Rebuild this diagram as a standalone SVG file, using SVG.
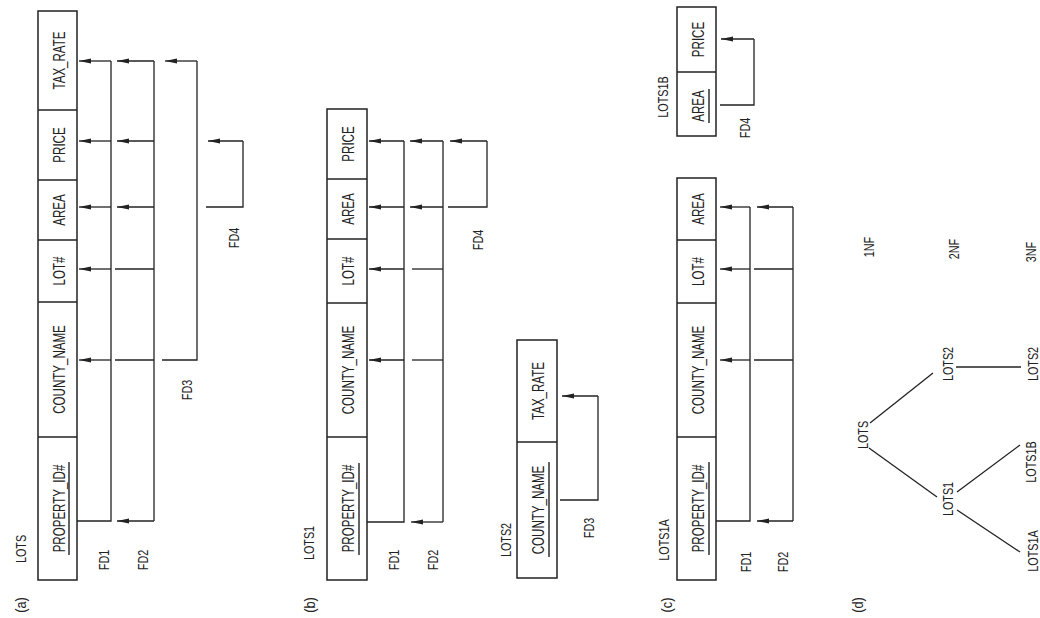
<svg xmlns="http://www.w3.org/2000/svg" width="1040" height="618" viewBox="0 0 1040 618">
<style>
.box{fill:#fff;stroke:#222;stroke-width:1.5}
.div{stroke:#222;stroke-width:1.3}
.ln{fill:none;stroke:#222;stroke-width:1.3}
.ar{fill:none;stroke:#222;stroke-width:1.3;marker-end:url(#ah)}
.ul{stroke:#222;stroke-width:1.4}
.cell{font-family:"Liberation Sans",Arial,sans-serif;font-size:17px;fill:#222;text-anchor:middle}
.lbl{font-family:"Liberation Sans",Arial,sans-serif;font-size:15px;fill:#222;text-anchor:middle}
</style>
<defs>
<marker id="ah" markerUnits="userSpaceOnUse" viewBox="0 0 12 6" refX="12" refY="3" markerWidth="12" markerHeight="6" orient="auto">
<path d="M0,0.6 L12,3 L0,5.4 Z" fill="#222"/>
</marker>
</defs>
<rect width="1040" height="618" fill="#fff"/>

<!-- (a) LOTS -->
<g id="lots">
<rect class="box" x="38" y="11" width="39" height="569"/>
<line class="div" x1="38" y1="110" x2="77" y2="110"/>
<line class="div" x1="38" y1="180" x2="77" y2="180"/>
<line class="div" x1="38" y1="240" x2="77" y2="240"/>
<line class="div" x1="38" y1="302" x2="77" y2="302"/>
<line class="div" x1="38" y1="437" x2="77" y2="437"/>
<text class="cell" transform="translate(65 60.5) rotate(-90) scale(0.68 1)">TAX_RATE</text>
<text class="cell" transform="translate(65 145) rotate(-90) scale(0.68 1)">PRICE</text>
<text class="cell" transform="translate(65 210) rotate(-90) scale(0.68 1)">AREA</text>
<text class="cell" transform="translate(65 271) rotate(-90) scale(0.68 1)">LOT#</text>
<text class="cell" transform="translate(65 369.5) rotate(-90) scale(0.68 1)">COUNTY_NAME</text>
<text class="cell" transform="translate(65 508.5) rotate(-90) scale(0.68 1)">PROPERTY_ID#</text>
<line class="ul" x1="69" y1="462" x2="69" y2="555"/>
</g>
<g id="labels-a">
<text class="lbl" transform="translate(25.5 549) rotate(-90) scale(0.72 1)">LOTS</text>
<text class="lbl" transform="translate(25.5 605) rotate(-90) scale(0.85 1)">(a)</text>
<text class="lbl" transform="translate(108.5 560) rotate(-90) scale(0.72 1)">FD1</text>
<text class="lbl" transform="translate(147.5 560) rotate(-90) scale(0.72 1)">FD2</text>
<text class="lbl" transform="translate(191.5 390) rotate(-90) scale(0.72 1)">FD3</text>
<text class="lbl" transform="translate(238.5 238) rotate(-90) scale(0.72 1)">FD4</text>
</g>

<!-- (b) LOTS1 -->
<g id="lots1">
<rect class="box" x="327" y="109" width="40" height="471"/>
<line class="div" x1="327" y1="179" x2="367" y2="179"/>
<line class="div" x1="327" y1="239" x2="367" y2="239"/>
<line class="div" x1="327" y1="303" x2="367" y2="303"/>
<line class="div" x1="327" y1="437" x2="367" y2="437"/>
<text class="cell" transform="translate(354 144) rotate(-90) scale(0.68 1)">PRICE</text>
<text class="cell" transform="translate(354 209) rotate(-90) scale(0.68 1)">AREA</text>
<text class="cell" transform="translate(354 271) rotate(-90) scale(0.68 1)">LOT#</text>
<text class="cell" transform="translate(354 370) rotate(-90) scale(0.68 1)">COUNTY_NAME</text>
<text class="cell" transform="translate(354 508.5) rotate(-90) scale(0.68 1)">PROPERTY_ID#</text>
<line class="ul" x1="359" y1="463" x2="359" y2="555"/>
</g>
<g id="labels-b">
<text class="lbl" transform="translate(313.5 543) rotate(-90) scale(0.72 1)">LOTS1</text>
<text class="lbl" transform="translate(314.5 605) rotate(-90) scale(0.85 1)">(b)</text>
<text class="lbl" transform="translate(398.5 560) rotate(-90) scale(0.72 1)">FD1</text>
<text class="lbl" transform="translate(437.5 560) rotate(-90) scale(0.72 1)">FD2</text>
<text class="lbl" transform="translate(482.5 240) rotate(-90) scale(0.72 1)">FD4</text>
</g>

<!-- LOTS2 -->
<g id="lots2">
<rect class="box" x="517" y="340" width="40" height="238"/>
<line class="div" x1="517" y1="442" x2="557" y2="442"/>
<text class="cell" transform="translate(544 391) rotate(-90) scale(0.68 1)">TAX_RATE</text>
<text class="cell" transform="translate(544 510) rotate(-90) scale(0.68 1)">COUNTY_NAME</text>
<line class="ul" x1="549" y1="462" x2="549" y2="557"/>
</g>
<g id="labels-lots2">
<text class="lbl" transform="translate(510.5 540) rotate(-90) scale(0.72 1)">LOTS2</text>
<text class="lbl" transform="translate(593.5 528) rotate(-90) scale(0.72 1)">FD3</text>
</g>

<!-- (c) LOTS1A -->
<g id="lots1a">
<rect class="box" x="677" y="178" width="39" height="402"/>
<line class="div" x1="677" y1="240" x2="716" y2="240"/>
<line class="div" x1="677" y1="303" x2="716" y2="303"/>
<line class="div" x1="677" y1="437" x2="716" y2="437"/>
<text class="cell" transform="translate(704 209) rotate(-90) scale(0.68 1)">AREA</text>
<text class="cell" transform="translate(704 271.5) rotate(-90) scale(0.68 1)">LOT#</text>
<text class="cell" transform="translate(704 370) rotate(-90) scale(0.68 1)">COUNTY_NAME</text>
<text class="cell" transform="translate(704 508.5) rotate(-90) scale(0.68 1)">PROPERTY_ID#</text>
<line class="ul" x1="709" y1="462" x2="709" y2="555"/>
</g>
<g id="lots1b">
<rect class="box" x="677" y="7" width="39" height="129"/>
<line class="div" x1="677" y1="72" x2="716" y2="72"/>
<text class="cell" transform="translate(704 39.5) rotate(-90) scale(0.68 1)">PRICE</text>
<text class="cell" transform="translate(704 106) rotate(-90) scale(0.68 1)">AREA</text>
<line class="ul" x1="709" y1="89" x2="709" y2="123"/>
</g>
<g id="labels-c">
<text class="lbl" transform="translate(668.5 540) rotate(-90) scale(0.72 1)">LOTS1A</text>
<text class="lbl" transform="translate(671.5 605) rotate(-90) scale(0.85 1)">(c)</text>
<text class="lbl" transform="translate(750.5 562) rotate(-90) scale(0.72 1)">FD1</text>
<text class="lbl" transform="translate(787.5 562) rotate(-90) scale(0.72 1)">FD2</text>
<text class="lbl" transform="translate(667.5 97) rotate(-90) scale(0.72 1)">LOTS1B</text>
<text class="lbl" transform="translate(749.5 128) rotate(-90) scale(0.72 1)">FD4</text>
</g>

<!-- (d) tree nodes -->
<g id="tree-lots"><text class="lbl" transform="translate(867.5 435) rotate(-90) scale(0.72 1)">LOTS</text></g>
<g id="tree-lots2-2nf"><text class="lbl" transform="translate(952.5 364) rotate(-90) scale(0.72 1)">LOTS2</text></g>
<g id="tree-lots1"><text class="lbl" transform="translate(952.5 499) rotate(-90) scale(0.72 1)">LOTS1</text></g>
<g id="tree-lots2-3nf"><text class="lbl" transform="translate(1037.5 364) rotate(-90) scale(0.72 1)">LOTS2</text></g>
<g id="tree-lots1b"><text class="lbl" transform="translate(1035.5 462) rotate(-90) scale(0.72 1)">LOTS1B</text></g>
<g id="tree-lots1a"><text class="lbl" transform="translate(1037.5 551) rotate(-90) scale(0.72 1)">LOTS1A</text></g>
<g id="labels-d">
<text class="lbl" transform="translate(873.5 247) rotate(-90) scale(0.72 1)">1NF</text>
<text class="lbl" transform="translate(958.5 249) rotate(-90) scale(0.72 1)">2NF</text>
<text class="lbl" transform="translate(1035.5 252) rotate(-90) scale(0.72 1)">3NF</text>
<text class="lbl" transform="translate(862.5 605) rotate(-90) scale(0.85 1)">(d)</text>
</g>

<g id="connectors">
<!-- (a) FD1 -->
<polyline class="ln" points="77,521 111,521 111,61"/>
<line class="ar" x1="111" y1="61" x2="79" y2="61"/>
<line class="ar" x1="111" y1="141" x2="79" y2="141"/>
<line class="ar" x1="111" y1="207" x2="79" y2="207"/>
<line class="ar" x1="111" y1="269" x2="79" y2="269"/>
<line class="ar" x1="111" y1="360" x2="79" y2="360"/>
<!-- (a) FD2 -->
<line class="ln" x1="154" y1="61" x2="154" y2="521"/>
<line class="ar" x1="154" y1="521" x2="117" y2="521"/>
<line class="ar" x1="154" y1="61" x2="117" y2="61"/>
<line class="ar" x1="154" y1="141" x2="117" y2="141"/>
<line class="ar" x1="154" y1="207" x2="117" y2="207"/>
<line class="ln" x1="115" y1="269" x2="154" y2="269"/>
<line class="ln" x1="115" y1="360" x2="154" y2="360"/>
<!-- (a) FD3 -->
<polyline class="ln" points="162,360 197,360 197,61"/>
<line class="ar" x1="197" y1="61" x2="165" y2="61"/>
<!-- (a) FD4 -->
<polyline class="ln" points="206,207 243,207 243,141"/>
<line class="ar" x1="243" y1="141" x2="208" y2="141"/>

<!-- (b) FD1 -->
<polyline class="ln" points="367,522 404,522 404,141"/>
<line class="ar" x1="404" y1="141" x2="369" y2="141"/>
<line class="ar" x1="404" y1="207" x2="369" y2="207"/>
<line class="ar" x1="404" y1="269" x2="369" y2="269"/>
<line class="ar" x1="404" y1="360" x2="369" y2="360"/>
<!-- (b) FD2 -->
<line class="ln" x1="443" y1="141" x2="443" y2="522"/>
<line class="ar" x1="443" y1="522" x2="411" y2="522"/>
<line class="ar" x1="443" y1="141" x2="410" y2="141"/>
<line class="ar" x1="443" y1="207" x2="410" y2="207"/>
<line class="ln" x1="412" y1="269" x2="443" y2="269"/>
<line class="ln" x1="412" y1="360" x2="443" y2="360"/>
<!-- (b) FD4 -->
<polyline class="ln" points="448,207 487,207 487,141"/>
<line class="ar" x1="487" y1="141" x2="450" y2="141"/>

<!-- LOTS2 FD3 -->
<polyline class="ln" points="560,500 598,500 598,396"/>
<line class="ar" x1="598" y1="396" x2="562" y2="396"/>

<!-- (c) LOTS1A FD1 -->
<polyline class="ln" points="716,521 750,521 750,207"/>
<line class="ar" x1="750" y1="207" x2="720" y2="207"/>
<line class="ar" x1="750" y1="269" x2="720" y2="269"/>
<line class="ar" x1="750" y1="360" x2="720" y2="360"/>
<!-- (c) LOTS1A FD2 -->
<line class="ln" x1="793" y1="207" x2="793" y2="521"/>
<line class="ar" x1="793" y1="521" x2="757" y2="521"/>
<line class="ar" x1="793" y1="207" x2="757" y2="207"/>
<line class="ln" x1="754" y1="269" x2="793" y2="269"/>
<line class="ln" x1="754" y1="360" x2="793" y2="360"/>
<!-- (c) LOTS1B FD4 -->
<polyline class="ln" points="720,105 754,105 754,39"/>
<line class="ar" x1="754" y1="39" x2="721" y2="39"/>

<!-- (d) tree edges -->
<line class="ln" x1="870" y1="423" x2="933" y2="373"/>
<line class="ln" x1="869" y1="448" x2="937" y2="497"/>
<line class="ln" x1="956" y1="367" x2="1021" y2="367"/>
<line class="ln" x1="957" y1="492" x2="1020" y2="445"/>
<line class="ln" x1="957" y1="510" x2="1020" y2="552"/>
</g>
</svg>
